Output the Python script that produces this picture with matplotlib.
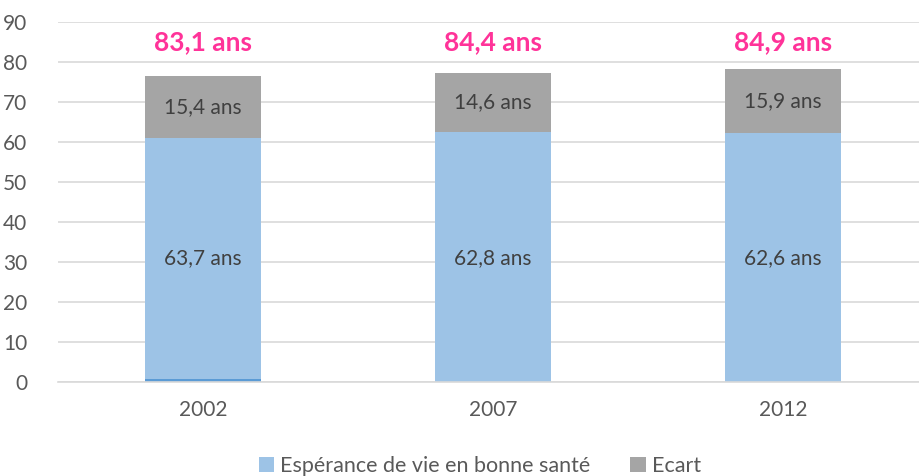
import matplotlib.pyplot as plt

years = ["2002", "2007", "2012"]
# bar heights as drawn in the reference
healthy = [60.4, 62.6, 62.3]
base_2002 = [0.7, 0, 0]
gap = [15.4, 14.6, 15.9]
# labels printed on the chart
healthy_labels = ["63,7 ans", "62,8 ans", "62,6 ans"]
gap_labels = ["15,4 ans", "14,6 ans", "15,9 ans"]
total_labels = ["83,1 ans", "84,4 ans", "84,9 ans"]

BLUE = "#9DC3E6"
DARK_BLUE = "#5B9BD5"
GREY = "#A5A5A5"
PINK = "#FF3399"
TEXT = "#595959"

plt.rcParams["font.family"] = ["Lato", "DejaVu Sans"]

fig = plt.figure(figsize=(9.19, 4.76), dpi=100)
ax = fig.add_axes([58 / 919, 94.3 / 476, 870 / 919, 359.7 / 476])

x = range(len(years))
ax.bar(x, base_2002, width=0.4, color=DARK_BLUE, zorder=2)
ax.bar(x, healthy, width=0.4, bottom=base_2002, color=BLUE, zorder=2,
       label="Espérance de vie en bonne santé")
tops = [b + h for b, h in zip(base_2002, healthy)]
ax.bar(x, gap, width=0.4, bottom=tops, color=GREY, zorder=2, label="Ecart")

for i in x:
    ax.text(i, 31, healthy_labels[i], ha="center", va="center",
            fontsize=15, color="#404040")
    ax.text(i, tops[i] + gap[i] / 2, gap_labels[i], ha="center", va="center",
            fontsize=15, color="#404040")
    ax.text(i, 85, total_labels[i], ha="center", va="center",
            fontsize=19, fontweight="bold", color=PINK)

ax.set_xlim(-0.5, 2.5)
ax.set_ylim(0, 90)
ax.set_yticks(range(0, 91, 10))
ax.set_xticks(list(x))
ax.set_xticklabels(years)
ax.grid(axis="y", color="#D9D9D9", linewidth=1.2, zorder=0)
for side in ["top", "right", "left"]:
    ax.spines[side].set_visible(False)
ax.spines["bottom"].set_color("#D9D9D9")
ax.spines["bottom"].set_linewidth(1.2)
ax.tick_params(axis="both", length=0, colors=TEXT, labelsize=15)
ax.tick_params(axis="y", pad=22)
ax.tick_params(axis="x", pad=13)

fig.legend(loc="center", bbox_to_anchor=(480 / 919, 10 / 476), ncol=2, frameon=False,
           fontsize=15.5, labelcolor=TEXT, handlelength=0.7, handleheight=0.7,
           handletextpad=0.3, columnspacing=1.85)

fig.savefig("out.png", dpi=100)
